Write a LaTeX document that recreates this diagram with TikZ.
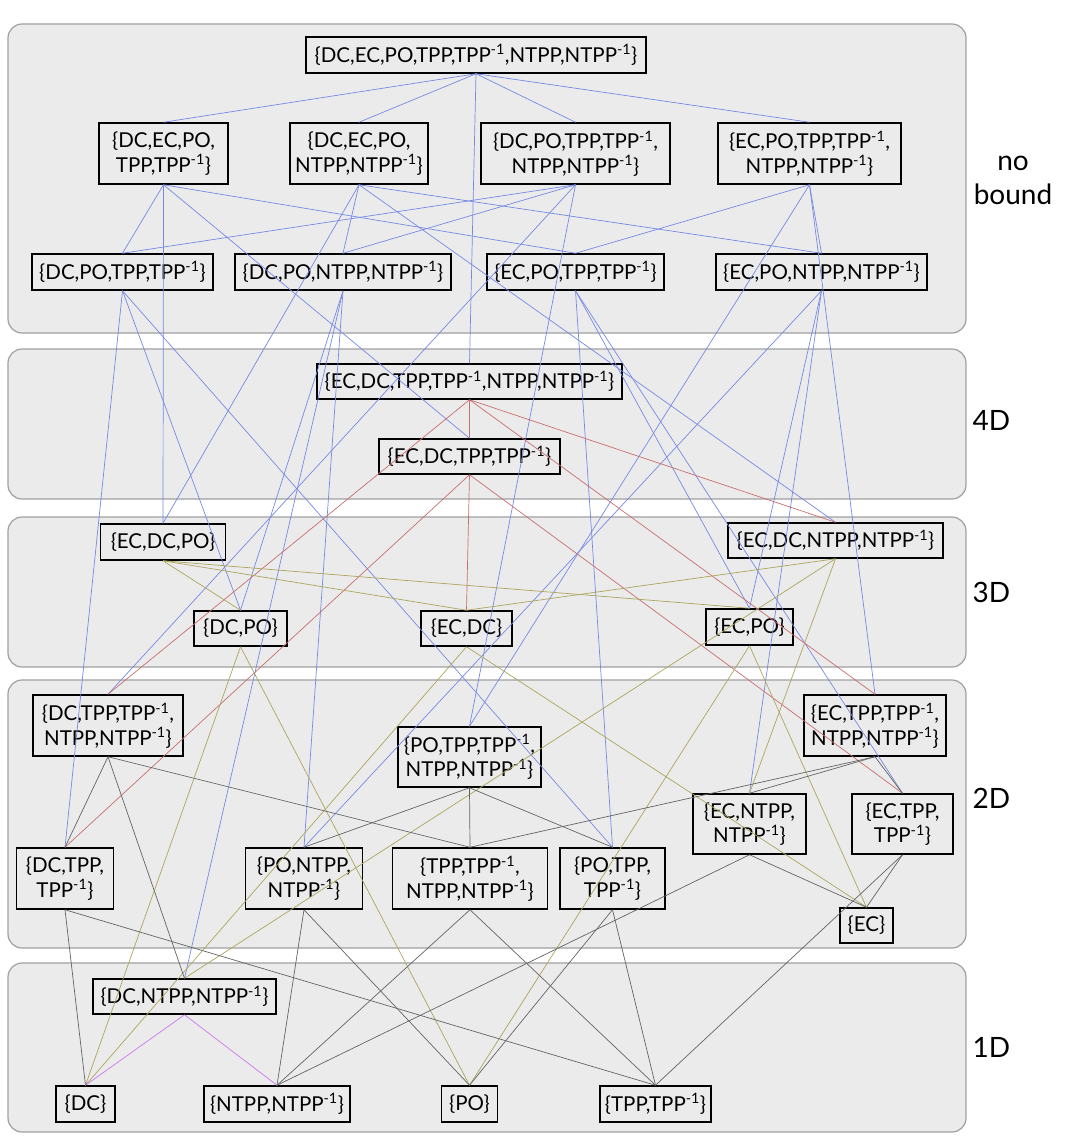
\documentclass[tikz,border=0pt]{standalone}
\usepackage{fontspec}
\setmainfont{Lato}
\definecolor{panelfill}{RGB}{235,235,235}
\definecolor{panelline}{RGB}{160,160,160}
\definecolor{eblue}{RGB}{118,137,229}
\definecolor{ered}{RGB}{200,110,110}
\definecolor{eolive}{RGB}{172,166,92}
\definecolor{egray}{RGB}{100,100,100}
\definecolor{epurple}{RGB}{205,120,240}
\newcommand{\tinv}{\textsuperscript{-1}}
\begin{document}
\begin{tikzpicture}[x=1pt,y=-1pt,
  nb/.style={draw=black, line width=1.5pt, inner sep=0pt, align=center,
    font=\fontsize{20.5}{24.5}\selectfont},
  panel/.style={draw=panelline, fill=panelfill, line width=1.2pt, rounded corners=14pt},
  dimlabel/.style={align=center, font=\fontsize{28}{34}\selectfont},
  eb/.style={line width=0.7pt, draw=eblue},
  er/.style={line width=0.7pt, draw=ered},
  eo/.style={line width=0.7pt, draw=eolive},
  eg/.style={line width=0.7pt, draw=egray},
  ep/.style={line width=0.7pt, draw=epurple}]
\useasboundingbox (0,0) rectangle (1066,1148);
% panels
\draw[panel] (8,24) rectangle (966,333);
\draw[panel] (8,349) rectangle (966,499);
\draw[panel] (8,517) rectangle (966,667);
\draw[panel] (8,680) rectangle (966,948);
\draw[panel] (8,963) rectangle (966,1132);
% dimension labels
\node[dimlabel] (lnb) at (1013,180) {no\\bound};
\node[dimlabel] (l4) at (991.5,420) {4D};
\node[dimlabel] (l3) at (991.5,592) {3D};
\node[dimlabel] (l2) at (991.5,798) {2D};
\node[dimlabel] (l1) at (991.5,1047) {1D};
% nodes: no bound
\node[nb, minimum width=340, minimum height=36] (A0) at (476,55) {\{DC,EC,PO,TPP,TPP\tinv,NTPP,NTPP\tinv\}};
\node[nb, minimum width=129, minimum height=61] (B1) at (163.5,153.5) {\{DC,EC,PO,\\TPP,TPP\tinv\}};
\node[nb, minimum width=138, minimum height=61] (B2) at (359,153.5) {\{DC,EC,PO,\\NTPP,NTPP\tinv\}};
\node[nb, minimum width=189, minimum height=61] (B3) at (575.5,153.5) {\{DC,PO,TPP,TPP\tinv,\\NTPP,NTPP\tinv\}};
\node[nb, minimum width=183, minimum height=61] (B4) at (809.5,153.5) {\{EC,PO,TPP,TPP\tinv,\\NTPP,NTPP\tinv\}};
\node[nb, minimum width=181, minimum height=36] (C1) at (122.5,272) {\{DC,PO,TPP,TPP\tinv\}};
\node[nb, minimum width=216, minimum height=36] (C2) at (343,272) {\{DC,PO,NTPP,NTPP\tinv\}};
\node[nb, minimum width=177, minimum height=36] (C3) at (575.5,272) {\{EC,PO,TPP,TPP\tinv\}};
\node[nb, minimum width=211, minimum height=36] (C4) at (821.5,272) {\{EC,PO,NTPP,NTPP\tinv\}};
% 4D
\node[nb, minimum width=305, minimum height=35] (D1) at (469.5,381.5) {\{EC,DC,TPP,TPP\tinv,NTPP,NTPP\tinv\}};
\node[nb, minimum width=181, minimum height=35] (D2) at (469.5,456.5) {\{EC,DC,TPP,TPP\tinv\}};
% 3D
\node[nb, minimum width=125, minimum height=36] (E1) at (163,542) {\{EC,DC,PO\}};
\node[nb, minimum width=215, minimum height=35] (E2) at (835.5,540.5) {\{EC,DC,NTPP,NTPP\tinv\}};
\node[nb, minimum width=93, minimum height=35] (E3) at (240.5,628.5) {\{DC,PO\}};
\node[nb, minimum width=91, minimum height=35] (E4) at (466.5,628.5) {\{EC,DC\}};
\node[nb, minimum width=87, minimum height=36] (E5) at (749.5,627) {\{EC,PO\}};
% 2D
\node[nb, minimum width=150, minimum height=61] (F1) at (108,725.5) {\{DC,TPP,TPP\tinv,\\NTPP,NTPP\tinv\}};
\node[nb, minimum width=143, minimum height=60] (F2) at (469.5,757) {\{PO,TPP,TPP\tinv,\\NTPP,NTPP\tinv\}};
\node[nb, minimum width=142, minimum height=61] (F3) at (875,725.5) {\{EC,TPP,TPP\tinv,\\NTPP,NTPP\tinv\}};
\node[nb, minimum width=113, minimum height=60] (F4) at (749.5,824) {\{EC,NTPP,\\NTPP\tinv\}};
\node[nb, minimum width=101, minimum height=60] (F5) at (902.5,824) {\{EC,TPP,\\TPP\tinv\}};
\node[nb, minimum width=97, minimum height=61] (F6) at (65,878.5) {\{DC,TPP,\\TPP\tinv\}};
\node[nb, minimum width=117, minimum height=61] (F7) at (304,878.5) {\{PO,NTPP,\\NTPP\tinv\}};
\node[nb, minimum width=155, minimum height=61] (F8) at (470,878.5) {\{TPP,TPP\tinv,\\NTPP,NTPP\tinv\}};
\node[nb, minimum width=105, minimum height=61] (F9) at (612.5,878.5) {\{PO,TPP,\\TPP\tinv\}};
\node[nb, minimum width=53, minimum height=35] (F10) at (866.5,925.5) {\{EC\}};
% 1D
\node[nb, minimum width=183, minimum height=35] (G1) at (184.5,996.5) {\{DC,NTPP,NTPP\tinv\}};
\node[nb, minimum width=59, minimum height=36] (G2) at (85.5,1104) {\{DC\}};
\node[nb, minimum width=146, minimum height=36] (G3) at (277,1104) {\{NTPP,NTPP\tinv\}};
\node[nb, minimum width=56, minimum height=36] (G4) at (469.5,1104) {\{PO\}};
\node[nb, minimum width=111, minimum height=36] (G5) at (655.5,1104) {\{TPP,TPP\tinv\}};
% edges
\foreach \a/\b in {A0/B1,A0/B2,A0/B3,A0/B4,A0/D1,
  B1/C1,B1/C3,B1/D2,B1/E1,
  B2/C2,B2/C4,B2/E2,B2/E1,
  B3/C1,B3/C2,B3/F1,B3/F2,
  B4/C3,B4/C4,B4/F3,B4/F2,
  C1/E3,C1/F6,C1/F9,
  C2/E3,C2/G1,C2/F7,
  C3/E5,C3/F5,C3/F9,
  C4/E5,C4/F4,C4/F7}
  \draw[eb] (\a.south) -- (\b.north);
\foreach \a/\b in {D1/D2,D1/E2,D1/F1,D1/F3,D2/E4,D2/F6,D2/F5}
  \draw[er] (\a.south) -- (\b.north);
\foreach \a/\b in {E1/E4,E1/E3,E1/E5,E2/E4,E2/G1,E2/F4,E3/G2,E3/G4,E4/G2,E4/F10,E5/F10,E5/G4}
  \draw[eo] (\a.south) -- (\b.north);
\foreach \a/\b in {F1/F6,F1/G1,F1/F8,F2/F9,F2/F7,F2/F8,F3/F5,F3/F4,F3/F8,
  F4/F10,F4/G3,F5/F10,F5/G5,F6/G2,F6/G5,F7/G4,F7/G3,F8/G5,F8/G3,F9/G4,F9/G5}
  \draw[eg] (\a.south) -- (\b.north);
\foreach \a/\b in {G1/G2,G1/G3}
  \draw[ep] (\a.south) -- (\b.north);
\end{tikzpicture}
\end{document}
